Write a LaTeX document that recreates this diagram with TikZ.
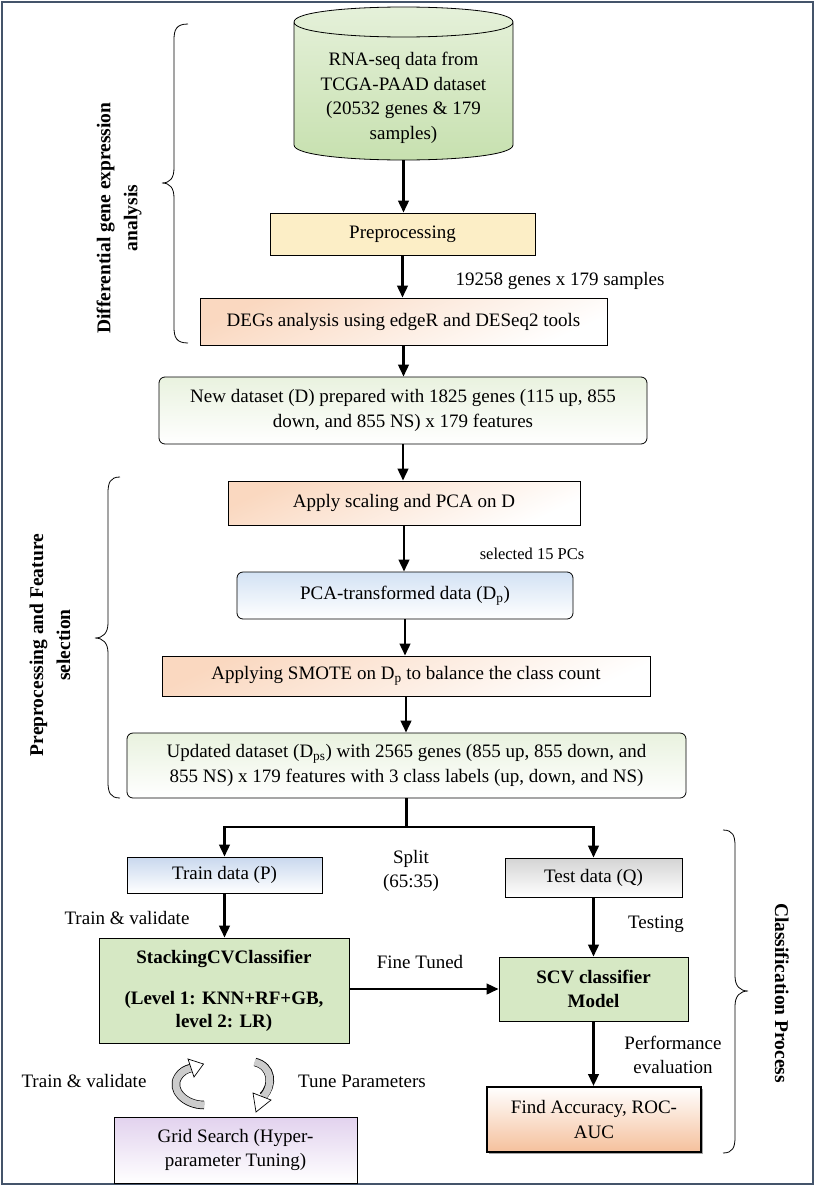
\documentclass[tikz,border=0pt]{standalone}
\usepackage{fontspec}
\setmainfont{Liberation Serif}
\usetikzlibrary{arrows.meta,shadows}
\definecolor{framec}{HTML}{44546A}
\definecolor{cylt}{HTML}{E6F1DB}
\definecolor{cylb}{HTML}{C6E0AE}
\definecolor{cream}{HTML}{FCEEC6}
\definecolor{peach}{HTML}{FAD8C0}
\definecolor{palegreen}{HTML}{E9F2DF}
\definecolor{paleblue}{HTML}{D3E2F4}
\definecolor{trainblue}{HTML}{C9D8EE}
\definecolor{testgray}{HTML}{D4D4D4}
\definecolor{stackgreen}{HTML}{D6E8C4}
\definecolor{findpeach}{HTML}{F5C09C}
\definecolor{lavender}{HTML}{E2D2EE}
\begin{document}
\begin{tikzpicture}[x=1pt,y=-1pt,
  every node/.style={font=\fontsize{19}{24.5}\selectfont},
  box/.style={draw=black,line width=0.8pt,align=center,inner sep=2pt},
  diag/.style={top color=peach,bottom color=white,shading angle=25},
  flow/.style={line width=2.6pt,-{Triangle[length=12pt,width=10.5pt]}},
  plainline/.style={line width=2.6pt},
  lbl/.style={align=center,inner sep=0pt},
  brc/.style={line width=0.8pt},
  side/.style={font=\fontsize{19.5}{27}\selectfont\bfseries,align=center,inner sep=0pt},
  circ/.style={line width=8.5pt},
  circin/.style={line width=7pt,draw=gray!40}]
\useasboundingbox[fill=white] (0,0) rectangle (819,1194);
\draw[framec,line width=1.5pt] (2,2) rectangle (813,1184);

% cylinder
\shade[top color=cylt,bottom color=cylb] (294,22) -- (294,145) .. controls (294,165) and (513,165) .. (513,145) -- (513,22) .. controls (513,2) and (294,2) .. (294,22) -- cycle;
\draw[line width=0.8pt] (294,22) -- (294,145) .. controls (294,165) and (513,165) .. (513,145) -- (513,22) .. controls (513,2) and (294,2) .. (294,22) .. controls (294,42) and (513,42) .. (513,22);
\node[lbl,minimum width=219pt,minimum height=124pt] (cyl) at (403.5,98) {RNA-seq data from\\TCGA-PAAD dataset\\(20532 genes \& 179\\samples)};

% boxes
\node[box,fill=cream,minimum width=265pt,minimum height=42pt] (pre) at (402.5,234) {Preprocessing};
\node[box,diag,minimum width=407pt,minimum height=47pt] (deg) at (403.5,321.5) {DEGs analysis using edgeR and DESeq2 tools};
\node[box,rounded corners=6pt,top color=palegreen,bottom color=white,minimum width=488pt,minimum height=67pt] (new) at (403,410.5) {New dataset (D) prepared with 1825 genes (115 up, 855\\down, and 855 NS) x 179 features};
\node[box,diag,minimum width=352pt,minimum height=44pt] (app) at (404,503) {Apply scaling and PCA on D};
\node[box,rounded corners=6pt,top color=paleblue,bottom color=white,minimum width=336pt,minimum height=47pt] (pca) at (405,595.5) {PCA-transformed data (D\textsubscript{p})};
\node[box,diag,minimum width=488pt,minimum height=40pt] (smote) at (406,676) {Applying SMOTE on D\textsubscript{p} to balance the class count};
\node[box,rounded corners=6pt,top color=palegreen,bottom color=white,minimum width=559pt,minimum height=65pt] (upd) at (406.5,765.5) {Updated dataset (D\textsubscript{ps}) with 2565 genes (855 up, 855 down, and\\855 NS) x 179 features with 3 class labels (up, down, and NS)};

\node[box,top color=trainblue,bottom color=white,minimum width=195pt,minimum height=36pt] (train) at (224.5,875) {Train data (P)};
\node[box,top color=testgray,bottom color=white,minimum width=177pt,minimum height=39pt] (test) at (593.5,877.5) {Test data (Q)};
\node[box,fill=stackgreen,font=\fontsize{19}{23}\selectfont\bfseries,minimum width=250pt,minimum height=105pt] (stack) at (224,990.5) {StackingCVClassifier\\[18pt](Level 1: KNN+RF+GB,\\level 2: LR)};
\node[box,fill=stackgreen,font=\fontsize{19}{24}\selectfont\bfseries,minimum width=189pt,minimum height=64pt] (scv) at (593.5,989) {SCV classifier\\Model};
\node[box,line width=2pt,top color=white,bottom color=findpeach,drop shadow={shadow xshift=2pt,shadow yshift=-2pt,fill=gray!70,opacity=1},minimum width=214pt,minimum height=65pt] (find) at (594,1119.5) {Find Accuracy, ROC-\\AUC};
\node[box,top color=lavender,bottom color=white,minimum width=243pt,minimum height=66pt] (grid) at (235.5,1150) {Grid Search (Hyper-\\parameter Tuning)};

% connectors
\draw[flow] (cyl.south) -- (cyl.south |- pre.north);
\draw[flow] (pre.south) -- (pre.south |- deg.north);
\draw[flow] (deg.south) -- (deg.south |- new.north);
\draw[flow] (new.south) -- (new.south |- app.north);
\draw[flow] (app.south) -- (app.south |- pca.north);
\draw[flow] (pca.south) -- (pca.south |- smote.north);
\draw[flow] (smote.south) -- (smote.south |- upd.north);
\coordinate (sp) at (406.5,827);
\draw[plainline] (upd.south) -- (sp);
\draw[flow] (sp) -| (train.north);
\draw[flow] (sp) -| (test.north);
\draw[flow] (train.south) -- (train.south |- stack.north);
\draw[flow] (test.south) -- (test.south |- scv.north);
\draw[flow] (stack.east |- scv.west) -- (scv.west);
\draw[flow] (scv.south) -- (scv.south |- find.north);

% labels
\node[lbl] (l1) at (560,281) {19258 genes x 179 samples};
\node[lbl,font=\fontsize{16.5}{20}\selectfont] (l2) at (532,554) {selected 15 PCs};
\node[lbl] (l3) at (411,871) {Split\\(65:35)};
\node[lbl] (l4) at (127,918) {Train \& validate};
\node[lbl] (l5) at (420,962) {Fine Tuned};
\node[lbl] (l6) at (656,924) {Testing};
\node[lbl] (l7) at (673,1055) {Performance\\evaluation};
\node[lbl] (l8) at (84,1081) {Train \& validate};
\node[lbl] (l9) at (362,1081) {Tune Parameters};

% braces
\draw[brc] (188,24) .. controls (176,24) and (174,30) .. (174,40) -- (174,168) .. controls (174,178) and (170,183) .. (162,183) .. controls (170,183) and (174,188) .. (174,198) -- (174,327) .. controls (174,337) and (176,343) .. (188,343);
\draw[brc] (120,477) .. controls (110,477) and (108,483) .. (108,493) -- (108,623) .. controls (108,633) and (103,638) .. (95,638) .. controls (103,638) and (108,643) .. (108,653) -- (108,782) .. controls (108,792) and (110,798) .. (120,798);
\draw[brc] (723,830) .. controls (733,830) and (735,836) .. (735,846) -- (735,976) .. controls (735,986) and (740,991) .. (748,991) .. controls (740,991) and (735,996) .. (735,1006) -- (735,1137) .. controls (735,1147) and (733,1153) .. (723,1153);
\node[side,rotate=90] (s1) at (119,218) {Differential gene expression\\analysis};
\node[side,rotate=90] (s2) at (50,645) {Preprocessing and Feature\\selection};
\node[side,rotate=-90] (s3) at (782,993) {Classification Process};

% circular arrows
\draw[circ] (204,1105) .. controls (185,1105) and (170,1090) .. (178,1077) .. controls (181,1072) and (186,1069) .. (191,1068);
\draw[circin] (204.5,1105) .. controls (185,1105) and (170,1090) .. (178,1077) .. controls (181,1072) and (186,1069) .. (192,1068);
\draw[line width=0.7pt,fill=white] (188,1059) -- (203.5,1064) -- (194,1077) -- cycle;
\draw[circ] (255,1062) .. controls (272,1066) and (274,1085) .. (263,1096);
\draw[circin] (254.5,1062) .. controls (272,1066) and (274,1085) .. (263,1097);
\draw[line width=0.7pt,fill=white] (253,1093) -- (271,1100) -- (256,1112) -- cycle;
\end{tikzpicture}
\end{document}
